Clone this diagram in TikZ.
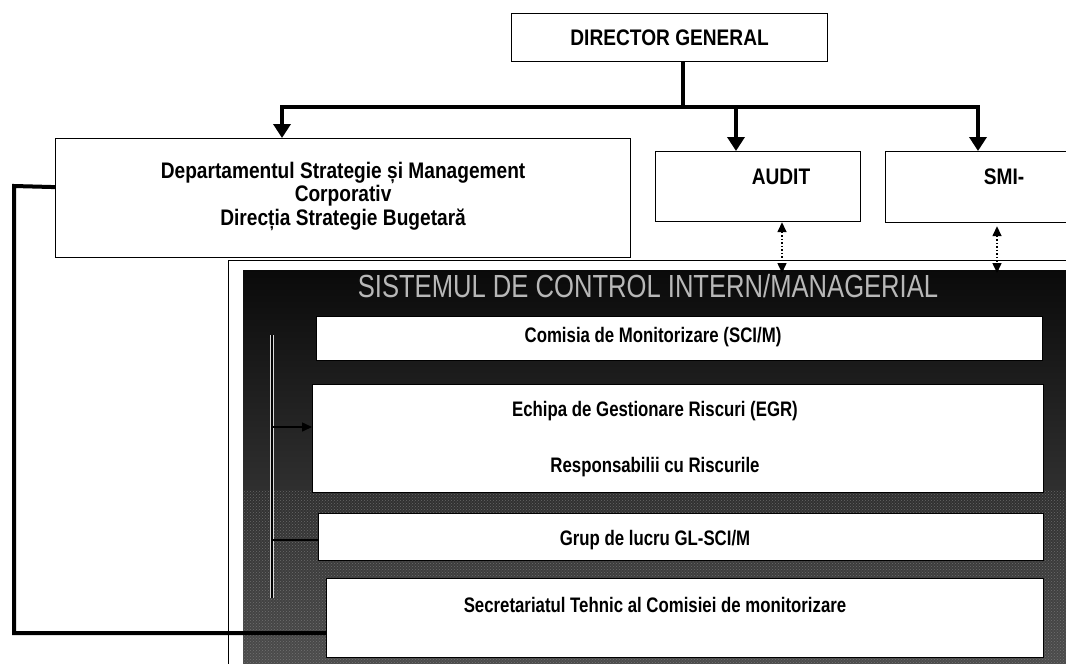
\documentclass[tikz,border=0pt]{standalone}
\usepackage{fontspec}
\setmainfont{Liberation Sans}
\newfontfamily\condtop[FakeStretch=0.85]{Liberation Sans}
\newfontfamily\condin[FakeStretch=0.80]{Liberation Sans}
\usetikzlibrary{arrows.meta,patterns}
\begin{document}
\begin{tikzpicture}[x=1pt,y=-1pt,
  box/.style={draw=black, line width=1.2pt, fill=white, inner sep=0pt, anchor=north west},
  toplbl/.style={font=\condtop\fontsize{22.5}{23.5}\selectfont\bfseries, align=center, inner sep=0pt},
  inlbl/.style={font=\condin\fontsize{21}{22}\selectfont\bfseries, align=center, inner sep=0pt},
  bigarrow/.style={line width=4.5pt, -{Triangle[width=17pt,length=14pt]}},
  dotarrow/.style={dotted, line width=1.5pt, {Triangle[width=9pt,length=10pt]}-{Triangle[width=9pt,length=10pt]}},
  conn/.style={line width=4pt}]
\useasboundingbox (0,0) rectangle (1066,664);
% frame and dark area
\draw[line width=1pt] (228,664) -- (228,260) -- (1066,260);
\shade[top color=black!96, middle color=black!90, bottom color=black!70] (243,270) rectangle (1066,664);
\fill[pattern=crosshatch dots, pattern color=black!45, opacity=0.6] (243,490) rectangle (1066,664);
\node[font=\condin\fontsize{32}{34}\selectfont, text=white!72!black, inner sep=0pt] (hdr) at (648,286) {SISTEMUL DE CONTROL INTERN/MANAGERIAL};
% top boxes
\node[box, minimum width=316pt, minimum height=48pt] (dg) at (511,13) {};
\node[toplbl] (dgt) at (dg.center) {DIRECTOR GENERAL};
\node[box, minimum width=575pt, minimum height=119pt] (dept) at (55,138) {};
\node[toplbl] (deptt) at ([yshift=2pt]dept.center) {Departamentul Strategie și Management\\Corporativ\\Direcția Strategie Bugetară};
\node[box, minimum width=205pt, minimum height=70pt] (audit) at (655,151) {};
\node[toplbl] (auditt) at (781,177) {AUDIT};
\node[box, minimum width=190pt, minimum height=71pt] (smi) at (885,151) {};
\node[toplbl] (smit) at (1004,177) {SMI-};
% inner boxes
\node[box, minimum width=726pt, minimum height=44pt] (com) at (316,316) {};
\node[inlbl] (comt) at (653,337) {Comisia de Monitorizare (SCI/M)};
\node[box, minimum width=731pt, minimum height=108pt] (egr) at (312,384) {};
\node[inlbl] (egrt1) at (655,411) {Echipa de Gestionare Riscuri (EGR)};
\node[inlbl] (egrt2) at (655,467) {Responsabilii cu Riscurile};
\node[box, minimum width=725pt, minimum height=47pt] (grup) at (318,513) {};
\node[inlbl] (grupt) at (655,540) {Grup de lucru GL-SCI/M};
\node[box, minimum width=717pt, minimum height=79pt] (sec) at (326,578) {};
\node[inlbl] (sect) at (655,605) {Secretariatul Tehnic al Comisiei de monitorizare};
% tree connectors
\coordinate (bus) at (683,107);
\coordinate (pd) at (282,105);
\coordinate (pa) at (736,105);
\coordinate (ps) at (978,105);
\draw[line width=4.5pt] (dg.south -| bus) -- (bus);
\draw[line width=4.5pt] (280,107) -- (980,107);
\draw[bigarrow] (pd) -- (pd |- dept.north);
\draw[bigarrow] (pa) -- (pa |- audit.north);
\draw[bigarrow] (ps) -- (ps |- smi.north);
% dotted double arrows
\coordinate (a1) at (782,273);
\coordinate (a2) at (997,273);
\draw[dotarrow] (a1 |- audit.south) -- (a1);
\draw[dotarrow] ([yshift=-3pt]a2 |- smi.south) -- (a2);
% left connector
\coordinate (lc) at (14,633);
\draw[conn] ([yshift=11pt]dept.west) -- (14,186) -- (lc) -- (lc -| sec.west);
% inner vertical line
\coordinate (vtop) at (272,335);
\coordinate (vbot) at (272,598);
\coordinate (ve) at (272,427);
\coordinate (vg) at (272,540);
\draw[line width=4pt, white!85!black] (vtop) -- (vbot);
\draw[line width=2pt, black] (vtop) -- (vbot);
\draw[line width=1.5pt, black, -{Triangle[width=9pt,length=10pt]}] (ve) -- (ve -| egr.west);
\draw[line width=2pt, black] (vg) -- (vg -| grup.west);
\end{tikzpicture}
\end{document}
